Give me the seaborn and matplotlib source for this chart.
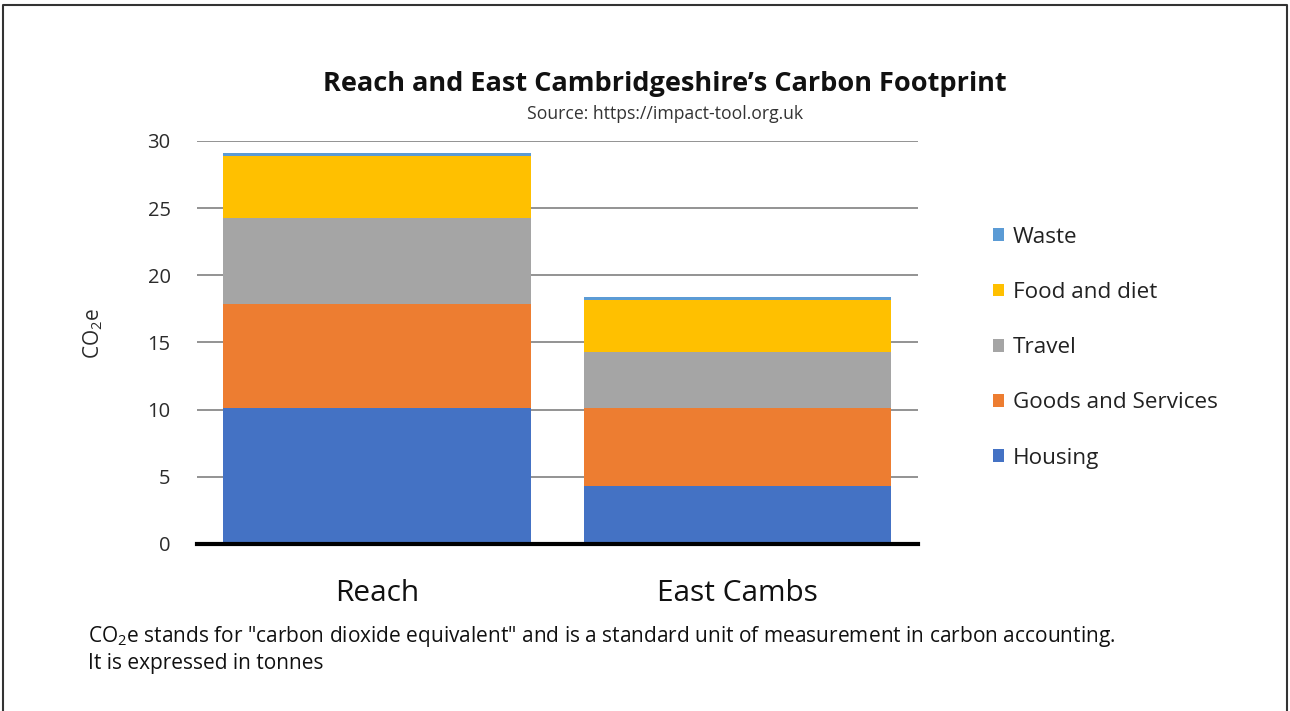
import matplotlib
matplotlib.use("Agg")
import matplotlib.pyplot as plt
import pandas as pd
import seaborn as sns
from matplotlib.patches import Patch
from matplotlib.lines import Line2D

# ----------------------------------------------------------
# DATA (tonnes CO2e per person)
# ----------------------------------------------------------
places = ["Reach", "East Cambs"]
housing = [10.1, 4.3]
goods = [7.8, 5.8]
travel = [6.4, 4.2]
food = [4.6, 3.9]
waste = [0.2, 0.2]

layers = ["Housing", "Goods and Services", "Travel", "Food and diet", "Waste"]
colors = {
    "Housing": "#4472C4",
    "Goods and Services": "#ED7D31",
    "Travel": "#A5A5A5",
    "Food and diet": "#FFC000",
    "Waste": "#5B9BD5",
}

# ----------------------------------------------------------
# STYLE
# ----------------------------------------------------------
sns.set_theme(style="white")
plt.rcParams["font.family"] = ["Open Sans", "DejaVu Sans"]
plt.rcParams["mathtext.fontset"] = "custom"
plt.rcParams["mathtext.rm"] = "Open Sans"
plt.rcParams["mathtext.it"] = "Open Sans:italic"

df = pd.DataFrame({
    "place": places,
    "Housing": housing,
    "Goods and Services": goods,
    "Travel": travel,
    "Food and diet": food,
    "Waste": waste,
})
# cumulative tops, so each layer is drawn from 0 and the lower ones on top
cum = df[layers].cumsum(axis=1)

fig = plt.figure(figsize=(12.9, 7.11), dpi=100)
ax = fig.add_axes([0.1527, 0.2349, 0.5589, 0.5668])

for layer in reversed(layers):
    sns.barplot(x=df["place"], y=cum[layer], color=colors[layer],
                width=0.853, saturation=1, linewidth=0, ax=ax, zorder=3)

ax.set_xlim(-0.5, 1.5)
ax.set_ylim(0, 30)
ax.set_yticks(range(0, 31, 5))
ax.yaxis.grid(True, color="#8a8a8a", linewidth=1.3, zorder=0)
ax.xaxis.grid(False)
for s in ["left", "right", "top"]:
    ax.spines[s].set_visible(False)
ax.spines["bottom"].set_color("black")
ax.spines["bottom"].set_linewidth(3)
ax.spines["bottom"].set_zorder(5)
ax.tick_params(axis="y", length=0, pad=19, labelsize=14.5, labelcolor="#2b2b2b")
ax.tick_params(axis="x", length=0, pad=25, labelsize=21.5, labelcolor="#111111")
ax.set_xlabel("")
ax.set_ylabel("CO$_2$e", fontsize=15, color="#2b2b2b")
ax.yaxis.set_label_coords(-0.128, 0.523)

# legend
handles = [Patch(facecolor=colors[l], edgecolor="none") for l in reversed(layers)]
fig.legend(handles, list(reversed(layers)), loc="center left",
           bbox_to_anchor=(0.754, 0.511), frameon=False, fontsize=16.2,
           handlelength=0.5, handleheight=0.5, handletextpad=0.4,
           labelspacing=1.52, labelcolor="#222222")

# titles and notes
fig.text(0.5155, 0.882, "Reach and East Cambridgeshire\u2019s Carbon Footprint",
         ha="center", va="center", fontsize=19.5, fontweight="bold", color="#111111")
fig.text(0.5155, 0.839, "Source: https://impact-tool.org.uk",
         ha="center", va="center", fontsize=12.7, color="#333333")
fig.text(0.068, 0.087,
         "CO$_2$e stands for \"carbon dioxide equivalent\" and is a standard unit of "
         "measurement in carbon accounting.\nIt is expressed in tonnes",
         ha="left", va="center", fontsize=15, color="#111111", linespacing=1.25)

# frame around the picture (open at the bottom)
frame = Line2D([0.0025, 0.0025, 0.998, 0.998], [0.0, 0.993, 0.993, 0.0],
               transform=fig.transFigure, color="#333333", linewidth=1.5)
fig.add_artist(frame)

fig.savefig("out.png", dpi=100)
